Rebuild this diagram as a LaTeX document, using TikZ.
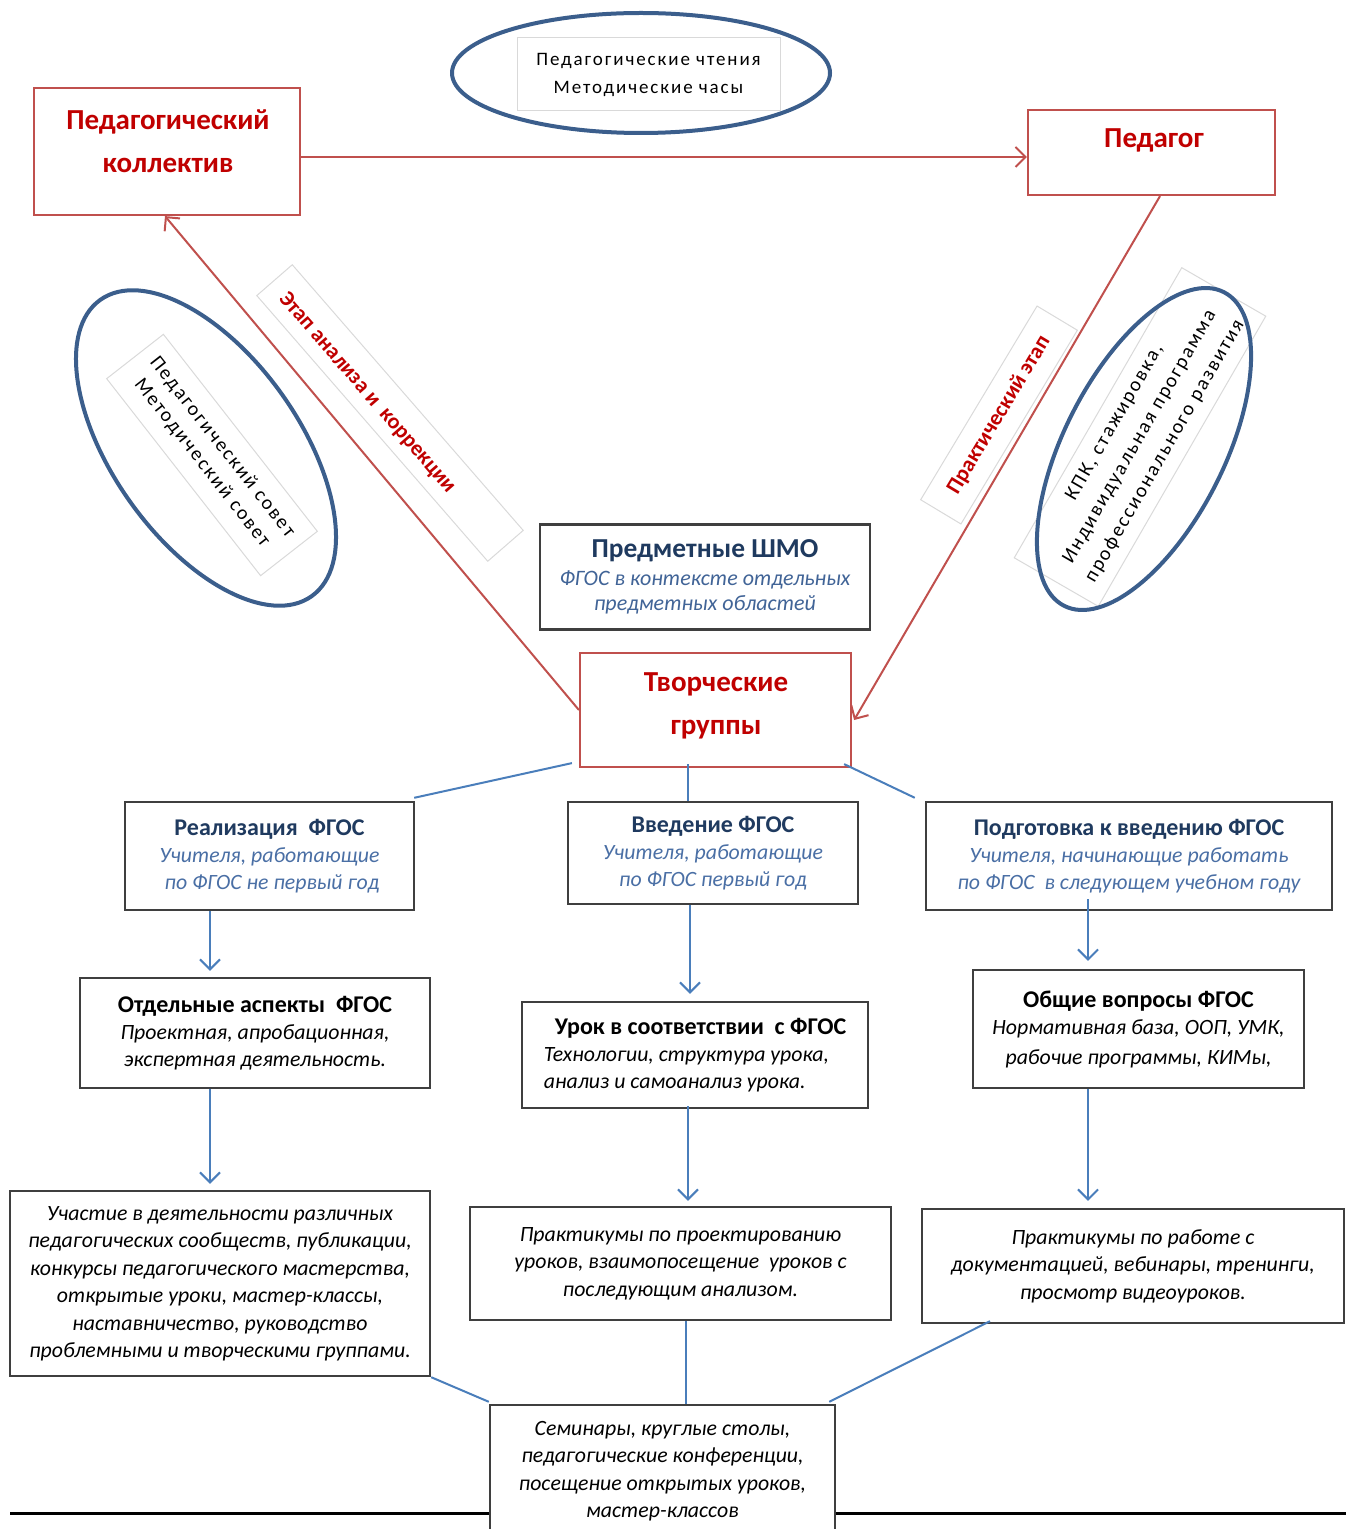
\documentclass[tikz,border=0pt]{standalone}
\usepackage{fontspec}
\setmainfont{Carlito}
\newfontfamily\spacedfont[LetterSpace=10]{Carlito}
\usetikzlibrary{arrows.meta}
\definecolor{dred}{HTML}{C00000}
\definecolor{rline}{HTML}{C0504D}
\definecolor{bline}{HTML}{4A7EBB}
\definecolor{ellc}{HTML}{3B5E8C}
\definecolor{navy}{HTML}{1F3A5F}
\definecolor{ital}{HTML}{4A6FA5}
\definecolor{gbox}{HTML}{D9D9D9}
\definecolor{bord}{HTML}{3F3F3F}
\newcommand{\navyt}[1]{{\fontsize{12}{13.5}\selectfont\bfseries\color{navy}#1}}
\newcommand{\blackt}[1]{{\fontsize{12}{13.5}\selectfont\bfseries #1}}
\newcommand{\itb}[1]{{\itshape\color{ital}#1}}
\begin{document}
\begin{tikzpicture}[x=0.5pt,y=-0.5pt,
  redbox/.style={draw=rline,line width=1.1pt,fill=white,inner sep=0pt},
  redtxt/.style={text=dred,font=\fontsize{14.5}{21.5}\selectfont\bfseries,align=center,inner sep=0pt},
  graybox/.style={draw=bord,line width=1.2pt,fill=white,inner sep=0pt,align=center,font=\fontsize{10.9}{13.5}\selectfont},
  thinrect/.style={draw=gbox,line width=0.5pt,inner sep=0pt},
  ellipseline/.style={draw=ellc,line width=2pt},
  redarrow/.style={draw=rline,line width=1pt,-{Straight Barb[length=5pt,width=10pt]}},
  bluearrow/.style={draw=bline,line width=1pt,-{Straight Barb[length=5pt,width=10pt]}},
  blueline/.style={draw=bline,line width=1pt},
]
\useasboundingbox (0,0) rectangle (1346,1529);
\clip (0,0) rectangle (1346,1529);

% ---------- top ellipse ----------
\node[thinrect,minimum width=131.5pt,minimum height=36.5pt,align=center,
      font=\spacedfont\fontsize{9.5}{14}\selectfont] (chten) at (648.5,74.5)
      {Педагогические чтения\\Методические часы};
\draw[ellipseline] (641,73) ellipse [x radius=94.5pt, y radius=30pt];

% ---------- red boxes ----------
\node[redbox,minimum width=133pt,minimum height=63.5pt] (pk) at (167,151.5) {};
\node[redtxt] (pkt) at (168,141) {Педагогический\\коллектив};
\node[redbox,minimum width=123.5pt,minimum height=42.5pt] (ped) at (1151.5,152.5) {};
\node[redtxt] (pedt) at (1154,140) {Педагог};
\node[redbox,minimum width=135.5pt,minimum height=57pt] (tg) at (715.5,710) {};
\node[redtxt] (tgt) at (716,706) {Творческие\\группы};

% ---------- left ellipse ----------
\node[thinrect,rotate=-52,minimum width=125pt,minimum height=36pt,align=center,
      font=\spacedfont\fontsize{10}{12.75}\selectfont] (sovet) at (212,455)
      {Педагогический совет\\Методический совет};
\draw[ellipseline,rotate around={-54.5:(206,448)}] (206,448) ellipse [x radius=91pt, y radius=46.5pt];

% ---------- right ellipse ----------
\node[thinrect,rotate=60,minimum width=167.5pt,minimum height=48.5pt,align=center,
      font=\spacedfont\fontsize{10}{14.5}\selectfont] (kpk) at (1140,437)
      {КПК, стажировка,\\Индивидуальная программа\\профессионального развития};
\draw[ellipseline,rotate around={63:(1144,449)}] (1144,449) ellipse [x radius=88pt, y radius=40pt];

% ---------- stage labels ----------
\node[thinrect,rotate=-49,minimum width=176pt,minimum height=23.5pt] (etapr) at (390,413) {};
\node[rotate=-49,text=dred,font=\fontsize{11}{13}\selectfont\bfseries,inner sep=0pt] (etap) at (367,393) {Этап анализа и\ \ коррекции};
\node[thinrect,rotate=59,minimum width=113pt,minimum height=23.5pt,text=dred,
      font=\fontsize{11}{13}\selectfont\bfseries] (prakt) at (999,415) {Практический этап};

% ---------- red arrows ----------
\draw[redarrow] ([yshift=-2.75pt]pk.east) -- ([yshift=-2.25pt]ped.west);
\draw[redarrow] (tg.west) -- ([shift={(-2,0)}]pk.south);
\draw[redarrow] ([shift={(8.5,0)}]ped.south) -- ([shift={(2,10)}]tg.east);

% ---------- ШМО ----------
\node[graybox,font=\fontsize{11}{12.5}\selectfont,minimum width=165pt,minimum height=52.5pt] (shmo) at (705,577)
 {{\fontsize{13.7}{16}\selectfont\navyt{\fontsize{13.7}{16}\selectfont Предметные ШМО}}\\[1.5pt]
  {\itshape\color{ital!80!navy}ФГОС в контексте отдельных}\\{\itshape\color{ital!80!navy}предметных областей}};

% ---------- row 1 ----------
\node[graybox,minimum width=144.5pt,minimum height=54pt] (real) at (269.5,856)
 {\navyt{Реализация\ \ ФГОС}\\\itb{Учителя, работающие}\\\itb{\ по ФГОС не первый год}};
\node[graybox,minimum width=145pt,minimum height=51pt] (vved) at (713,853)
 {\navyt{Введение ФГОС}\\\itb{Учителя, работающие}\\\itb{по ФГОС первый год}};
\node[graybox,minimum width=203pt,minimum height=54pt] (podg) at (1129,856)
 {\navyt{Подготовка к введению ФГОС}\\\itb{Учителя, начинающие работать}\\\itb{по ФГОС\ \ в следующем учебном году}};

% ---------- row 2 ----------
\node[graybox,minimum width=175pt,minimum height=55pt] (otd) at (255,1033)
 {\blackt{Отдельные аспекты\ \ ФГОС}\\\textit{Проектная, апробационная,}\\\textit{экспертная деятельность.}};
\node[graybox,align=left,minimum width=173pt,minimum height=53pt] (urok) at (695,1055)
 {\hspace*{5.5pt}\blackt{Урок в соответствии\ \ с ФГОС}\\\textit{Технологии, структура урока,}\\\textit{анализ и самоанализ урока.}};
\node[graybox,minimum width=165.5pt,minimum height=59pt,font=\fontsize{10.9}{15}\selectfont] (obsh) at (1138.5,1029)
 {\blackt{Общие вопросы ФГОС}\\[-1.5pt]\textit{Нормативная база, ООП, УМК,}\\\textit{рабочие программы, КИМы,}};

% ---------- row 3 ----------
\node[graybox,minimum width=210pt,minimum height=92.5pt,font=\fontsize{10.9}{13.75}\selectfont\itshape] (uch) at (220,1283.5)
 {Участие в деятельности различных\\педагогических сообществ, публикации,\\конкурсы педагогического мастерства,\\открытые уроки, мастер-классы,\\наставничество, руководство\\проблемными и творческими группами.};
\node[graybox,minimum width=210.5pt,minimum height=56.5pt,font=\fontsize{10.9}{13.75}\selectfont\itshape] (prak1) at (680.5,1263.5)
 {Практикумы по проектированию\\уроков, взаимопосещение\ \ уроков с\\последующим анализом.};
\node[graybox,minimum width=211pt,minimum height=57pt,font=\fontsize{10.9}{13.75}\selectfont\itshape] (prak2) at (1133,1266)
 {Практикумы по работе с\\документацией, вебинары,\ тренинги,\\просмотр видеоуроков.};

% ---------- bottom ----------
\coordinate (hl) at (10,1513);
\coordinate (hr) at (1346,1513);
\draw[line width=1.5pt,black] (hl) -- (hr);
\node[graybox,minimum width=172.5pt,minimum height=66pt,font=\fontsize{10.9}{13.75}\selectfont\itshape] (sem) at (662.5,1471)
 {Семинары, круглые столы,\\педагогические конференции,\\посещение открытых уроков,\\мастер-классов};

% ---------- blue connectors ----------
\draw[blueline] ([shift={(-7,-5)}]tg.south west) -- ([shift={(-1,-3)}]real.north east);
\draw[blueline] ([shift={(-27.5,-4)}]tg.south) -- ([shift={(-25,0)}]vved.north);
\draw[blueline] ([shift={(-8,-4)}]tg.south east) -- ([shift={(-10,-3)}]podg.north west);

\draw[bluearrow] ([shift={(-59.5,0)}]real.south) -- ([shift={(-45,-6)}]otd.north);
\draw[bluearrow] ([shift={(-23,0)}]vved.south) -- ([shift={(-5,-7)}]urok.north);
\draw[bluearrow] ([shift={(-41,-12)}]podg.south) -- ([shift={(-50.5,-8)}]obsh.north);

\draw[bluearrow] ([shift={(-45,0)}]otd.south) -- ([shift={(-10,-6)}]uch.north);
\draw[bluearrow] ([shift={(-7,-3)}]urok.south) -- ([shift={(7.5,-5)}]prak1.north);
\draw[bluearrow] ([shift={(-50.5,0)}]obsh.south) -- ([shift={(-45,-7)}]prak2.north);

\draw[blueline] (uch.south east) -- ([shift={(0,-2)}]sem.north west);
\draw[blueline] ([shift={(5.5,0)}]prak1.south) -- ([shift={(23.5,0)}]sem.north);
\draw[blueline] ([shift={(-143,-3)}]prak2.south) -- ([shift={(-7,-2)}]sem.north east);
\end{tikzpicture}
\end{document}
